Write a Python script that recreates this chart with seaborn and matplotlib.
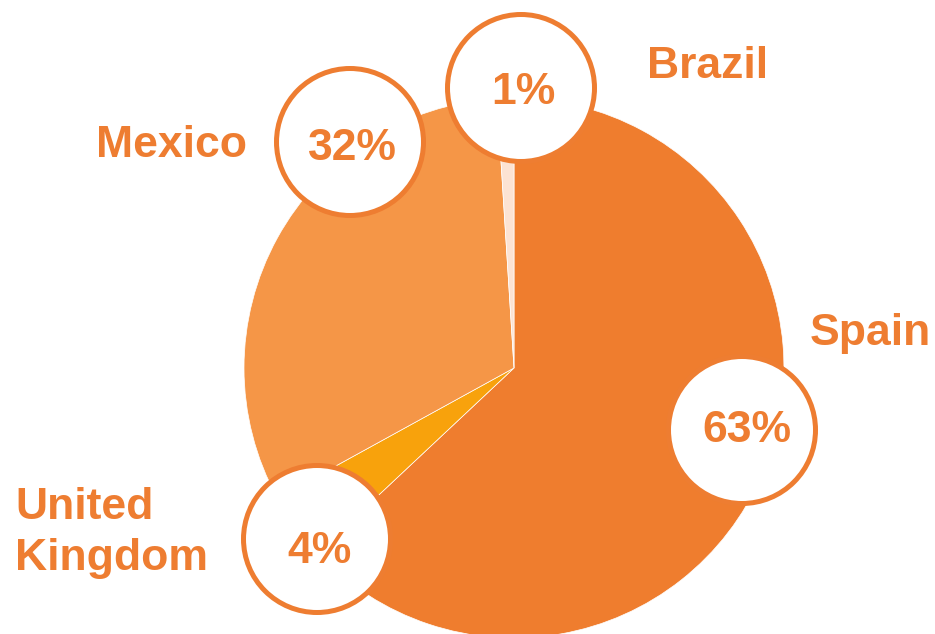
import matplotlib
matplotlib.use("Agg")
import matplotlib.pyplot as plt
from matplotlib.patches import Circle
import seaborn as sns

# Share of visitors by country
countries = ["Spain", "United Kingdom", "Mexico", "Brazil"]
shares = [63, 4, 32, 1]
labels = ["Spain", "United\nKingdom", "Mexico", "Brazil"]

sns.set_theme(style="white")
plt.rcParams["font.family"] = ["Liberation Sans", "DejaVu Sans"]

W, H = 935, 634
ORANGE = "#EE7D31"
wedge_colors = sns.color_palette(["#EF7D2E", "#F8A20C", "#F59647", "#FCE3D3"])

fig = plt.figure(figsize=(W / 100, H / 100), dpi=100)
ax = fig.add_axes([0, 0, 1, 1])

def fy(y):
    """Convert a top-down pixel row into axis y."""
    return H - y

# Pie, clockwise from 12 o'clock
ax.pie(shares, colors=wedge_colors, startangle=90, counterclock=False,
       center=(514, fy(368)), radius=270, frame=True,
       wedgeprops=dict(edgecolor="white", linewidth=0.5))
ax.set_xlim(0, W)
ax.set_ylim(0, H)
ax.set_aspect("equal")
ax.axis("off")

# Badge layout: circle centre and text position (pixels, top-down)
badge_centers = [(742, 430), (317, 539), (350, 142), (521, 88)]
badge_text = [(747, 442), (319, 563), (352, 160), (523, 104)]
# Label anchor = left edge and baseline of the last line
label_pos = [(810, 345), (15, 570), (96, 157), (647, 78)]

for v, lab, (cx, cy), (tx, ty), (lx, ly) in zip(shares, labels, badge_centers,
                                                 badge_text, label_pos):
    ax.add_patch(Circle((cx, fy(cy)), 73.5, facecolor="white",
                        edgecolor=ORANGE, linewidth=3.6, zorder=5))
    ax.text(tx, fy(ty), f"{v}%", ha="center", va="baseline", fontsize=32,
            fontweight="bold", color=ORANGE, zorder=6)
    ax.text(lx, fy(ly), lab, ha="left", va="baseline", fontsize=32,
            fontweight="bold", color=ORANGE, linespacing=1.3, zorder=6)

fig.savefig("out.png", dpi=100)
